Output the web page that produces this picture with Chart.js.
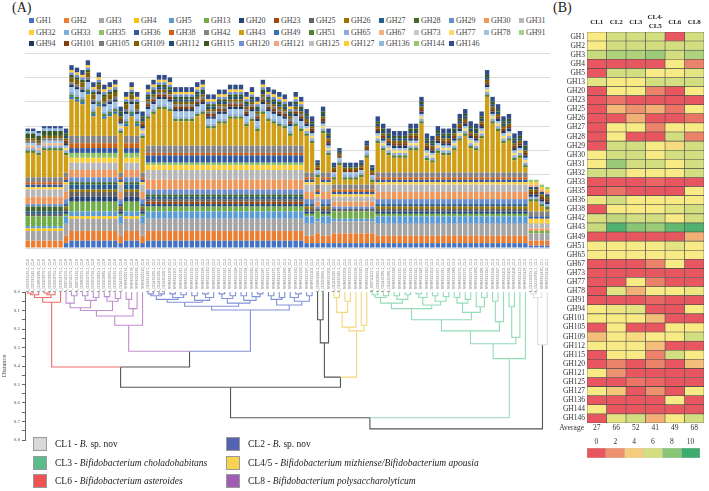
<!DOCTYPE html>
<html>
<head>
<meta charset="utf-8">
<script src="https://cdn.jsdelivr.net/npm/chart.js@4.4.1/dist/chart.umd.min.js"></script>
<style>
  body { margin: 0; width: 709px; height: 491px; position: relative; overflow: hidden; background: #fff; font-family: 'Liberation Serif', serif; color: #222; }
  canvas { position: absolute; }
  .panel { position: absolute; font-size: 14px; }
  #ghLegend { position: absolute; left: 29px; top: 15px; display: grid; grid-template-columns: repeat(15, 35px); grid-auto-rows: 11.6px; font-size: 8px; color: #444; }
  #ghLegend span { display: flex; align-items: center; white-space: nowrap; }
  #ghLegend i { display: inline-block; width: 5px; height: 5px; margin-right: 2px; }
  .cl { position: absolute; font-size: 9.5px; display: flex; align-items: center; white-space: pre; }
  .cl b { display: inline-block; width: 12px; height: 12px; border: 1px solid #9a9a9a; margin-right: 8px; }
</style>
</head>
<body>
<div class="panel" style="left:12px;top:0px">(A)</div>
<div class="panel" style="left:553px;top:0px">(B)</div>
<div id="ghLegend"></div>
<canvas id="bars" width="578" height="292" style="left:0;top:0"></canvas>
<canvas id="dendro" width="578" height="160" style="left:0;top:285px"></canvas>
<canvas id="heat" width="169" height="433" style="left:540px;top:0"></canvas>
<canvas id="scale" width="129" height="24" style="left:580px;top:437px"></canvas>
<div id="clLegend"></div>

<script>
// GH families (stack order, bottom to top)
const ghNames = ['GH1','GH2','GH3','GH4','GH5','GH13','GH20','GH23','GH25','GH26','GH27','GH28','GH29','GH30','GH31',
  'GH32','GH33','GH35','GH36','GH38','GH42','GH43','GH49','GH51','GH65','GH67','GH73','GH77','GH78','GH91',
  'GH94','GH101','GH105','GH109','GH112','GH115','GH120','GH121','GH125','GH127','GH136','GH144','GH146'];
const ghColors = ['#4472c4','#ed7d31','#a5a5a5','#ffc000','#5b9bd5','#70ad47','#264478','#9e480e','#636363','#997300','#255e91','#43682b','#698ed0','#f1975a','#b7b7b7',
  '#ffcd33','#7cafdd','#8cc168','#335aa1','#d26012','#848484','#d09f16','#2e75b6','#548235','#8faadc','#f4b183','#c9c9c9','#ffd966','#9dc3e6','#a9d18e',
  '#203864','#843c0c','#7b7b7b','#7f6000','#1f4e79','#385723','#6f8fd8','#f3a683','#bfbfbf','#ffcb2f','#8db9e3','#93c873','#2f4b8a'];

// genomes, in dendrogram order
const sampleIds = [
  'GCA_000741525.1','GCA_000741545.1','GCA_002803265.1','GCA_003202675.1','GCA_003202695.1','GCA_003202755.1','GCA_003202775.1',
  'GCA_000741155.1','GCA_000741175.1','GCA_000741195.1','GCA_002803215.1','GCA_003202735.1','GCA_003202795.1','GCA_003202815.1','GCA_003202835.1',
  'GCA_003202855.1','GCA_003202915.1','GCA_019425125.1','SRR6321174','SRR6321178','SRR6321183','SRR6321190',
  'GCA_019425145.1','GCA_019425165.1','GCA_019425185.1','GCA_019425205.1','SRR6321203','SRR6321207','SRR6321211','SRR6321215','SRR6321219',
  'SRR6321222','SRR6321226','SRR6321230','SRR6321233','SRR6321237','SRR6321241','SRR6321245','SRR6321248','SRR6321252','SRR6321256',
  'SRR6321260','SRR6321263','SRR6321267','SRR6321271','SRR6321275','SRR6321278','SRR6321282','SRR6321286','SRR6321290','SRR6321293',
  'SRR6321297','SRR6321301',
  'GCA_002802945.1','GCA_003202895.1','SRR6321305',
  'GCA_019425225.1','GCA_019425245.1','SRR6321309','SRR6321313','SRR6321316','SRR6321320','SRR6321324',
  'GCA_000741115.1','GCA_003202655.1','GCA_019425265.1','GCA_019425285.1','SRR6321328','SRR6321331','SRR6321335','SRR6321339','SRR6321342',
  'SRR6321346','SRR6321350','SRR6321353','SRR6321357','SRR6321361','SRR6321364','SRR6321368','SRR6321372','SRR6321375','SRR6321379',
  'SRR6321383','SRR6321386','SRR6321390','SRR6321394','SRR6321397','SRR6321401','SRR6321405','SRR6321408','SRR6321412','SRR6321416',
  'GCA_014195615.1','GCA_014195635.1','SRR6321420','SRR6321424'];
const clusterRuns = [['CL6', 7], ['CL8', 15], ['CL2', 31], ['CL4', 3], ['CL5', 7], ['CL3', 29], ['CL1', 4]];

// total GH genes per genome (bar heights)
const sampleTotals = [49,49,48,50,50,50,50,
  49,75,74,73,77,68,72,67,68,69,58,64,68,64,56,
  67,69,71,71,70,66,66,66,66,68,69,63,63,65,65,67,67,67,64,66,62,69,66,65,64,63,60,64,62,57,54,
  36,58,49,
  35,41,35,35,35,36,44,
  34,54,51,49,48,48,48,51,51,62,47,46,50,49,49,51,55,57,52,51,56,73,62,59,54,55,47,48,44,
  28,28,26,25];
// which family profile each bar looks like (6,8,2,3,4=CL4/5,1)
const sampleProfile = '6666666' + '3' + '888888888' + '3' + '888' + '3' + '2'.repeat(29) + '33' + '433' + '4444444' + '4' + '3'.repeat(28) + '1111';

// GH counts per profile, in ghNames order
const profileCL6  = [0,3,4,1,1,4, 0,0,1,0,1,2, 1,3,3,1,0,0, 1,1,2,11, 0,1,1,1,0,0,1,0, 0,0,1,1,0,2, 0,0,0,0,1,0,1];
const profileCL8  = [3,4,5,1,2,4, 2,0,2,1,2,1, 2,3,3,2,0,2, 2,2,3,8, 1,1,1,0,0,0,2,0, 1,0,1,2,0,1, 1,0,0,1,0,0,2];
const profileCL2  = [3,4,5,0,3,2, 1,1,1,0,1,1, 2,4,4,2,0,1, 3,1,3,10, 0,1,1,0,0,0,2,0, 1,1,1,1,1,1, 1,0,0,1,0,0,2];
const profileCL3  = [2,3,5,0,3,1, 1,0,1,1,1,0, 2,3,3,1,0,0, 1,1,2,10, 0,1,1,0,0,1,1,0, 1,1,0,1,1,1, 0,0,0,0,0,0,2];
const profileCL45 = [2,4,5,0,1,3, 0,0,1,0,0,0, 1,2,2,1,0,0, 1,1,2,6, 0,1,1,0,0,0,1,0, 0,1,0,1,1,0, 0,0,0,0,0,0,1];
const profileCL1  = [1,2,3,0,0,1, 0,0,0,0,0,0, 0,1,2,2,0,0, 1,0,2,3, 0,1,1,0,0,0,0,0, 1,1,0,1,1,0, 0,1,0,1,0,1,0];

// clustering (height, left, right); numbers are leaves
const treeCL6 = [0.055, [0.03, [0.015, [0.005, 0, 1], 2], [0.015, [0.005, 3, 4], 5]], 6];
const treeCL8 = [0.18, [0.13, [0.10, [0.085, [0.06, 7, [0.02, 8, 9]], [0.045, [0.02, 10, 11], [0.03, 12, 13]]],
  [0.05, [0.025, 14, 15], [0.035, 16, 17]]], [0.09, [0.04, 18, 19], 20]], 21];
const treeCL2 = [0.097,
  [0.077, [0.055, [0.04, [0.02, [0.01, 22, 23], [0.01, 24, 25]], [0.03, [0.01, 26, 27], [0.015, 28, 29]]],
    [0.045, [0.02, 30, 31], [0.03, [0.01, 32, 33], 34]]],
    [0.06, [0.035, [0.01, 35, 36], [0.02, 37, 38]], [0.045, [0.02, 39, 40], [0.025, 41, [0.01, 42, 43]]]]],
  [0.07, [0.04, [0.02, 44, 45], [0.03, 46, 47]], [0.05, [0.03, 48, [0.01, 49, 50]], [0.02, 51, 52]]]];
const treeCL4 = [0.275, [0.15, 53, 54], 55];
const treeCL5 = [0.21, [0.19, [0.11, [0.03, 56, 57], [0.05, 58, 59]], 60], [0.18, 61, 62]];
const treeCL3 = [0.36, [0.28, [0.21, [0.15,
  [0.09, [0.06, [0.03, [0.015, 63, 64], [0.02, 65, 66]], [0.04, [0.02, 67, 68], [0.015, 69, 70]]],
    [0.07, [0.03, [0.01, 71, 72], 73], [0.05, [0.02, 74, 75], [0.025, 76, 77]]]],
  [0.11, [0.06, [0.03, 78, 79], [0.04, 80, 81]], [0.08, 82, [0.03, 83, 84]]]],
  [0.16, [0.05, 85, 86], 87]], [0.245, [0.08, 88, 89], 90]], 91];
const treeCL1 = [0.285, [0.03, [0.01, 92, 93], 94], 95];
const mergeTree = [0.74, [0.68, [0.515, [0.405, treeCL6, [0.32, treeCL8, treeCL2]], [0.46, treeCL4, treeCL5]], treeCL3], treeCL1];

// panel B: colour values per cluster, ghNames order
const heatHeaders = ['CL1', 'CL2', 'CL3', ['CL4-', 'CL5'], 'CL6', 'CL8'];
const heatCL1  = [5,5,6.3,0,0,5.5, 0,0,0,0,0,0, 0,5,5,6,0,0, 5.3,0,5.8,6.3, 0,5,5,0,0,0,0,0, 5,5,0,3.5,5,0, 0,5,0,5,0,5,0];
const heatCL2  = [6,6,7,0,6,5, 5,1,3.3,0,5,5, 6,6,7.5,6,0,1, 6,5,6.5,9.5, 0,5,5,0,0,0,5.5,0, 5.3,5,5,5,5,5, 1.5,2,0,3.8,0,0,5.5];
const heatCL3  = [6,6,7,0,6,5, 5,0,2,3,5,0, 6,6,6,5,0,0, 5,5,6,8, 0,5,5,0,0,5,3,0, 5.5,5,0,4.5,5,5, 0,0,1,0,0,0,6];
const heatCL45 = [6,6,7.5,0,5,6, 1.5,0,3,0,1.5,0, 5,5,6,5,0.5,0, 5,5,6,7.5, 0,5,5,1.5,0,1.5,5,0.5, 0,3.5,0,5,3.5,1.5, 1.5,0,0.5,2,0,0,3];
const heatCL6  = [0,6,6,5,5,6, 0,0,1,0,5,6, 4.5,6,5,5,0,0, 5,5.5,5,9, 0,5.5,5,5,0,0,5,0, 0,0,5,5,0,6, 0,0,0,0,5,0,5];
const heatCL8  = [6,6,7,1.5,5.5,6, 5,0,5,1,5,1.5, 6,6,6,6,0,5, 5,6,6,9.5, 3,5,5,0,0,0,5.3,0, 5,0,5,6,0,5, 3.5,0,0,5,0,0,6];
const heatAverage = [27, 66, 52, 41, 49, 68];
const scaleTicks = [0, 2, 4, 6, 8, 10];

const clusterLegend = [
  ['CL1', 'B.', ' sp. nov', '#d9d9d9', 33, 437],
  ['CL3', 'Bifidobacterium choladohabitans', '', '#5dbd8a', 33, 455.5],
  ['CL6', 'Bifidobacterium asteroides', '', '#ee5353', 33, 474],
  ['CL2', 'B.', ' sp. nov', '#5562b2', 226, 437],
  ['CL4/5', 'Bifidobacterium mizhiense/Bifidobacterium apousia', '', '#f6d450', 226, 455.5],
  ['CL8', 'Bifidobacterium polysaccharolyticum', '', '#a15cb6', 226, 474]
];
const linkColors = { CL6: '#f06a6a', CL8: '#c08fcf', CL2: '#8292d8', CL5: '#f3d77c', CL3: '#93dcb6', CL1: '#dedede' };

// ---------- legends (html) ----------
const ghLegend = document.getElementById('ghLegend');
ghNames.forEach((n, g) => {
  const s = document.createElement('span');
  s.innerHTML = '<i style="background:' + ghColors[g] + '"></i>' + n;
  ghLegend.appendChild(s);
});
const clLegend = document.getElementById('clLegend');
clusterLegend.forEach(([cl, it, rest, col, x, y]) => {
  const d = document.createElement('div');
  d.className = 'cl';
  d.style.left = x + 'px';
  d.style.top = y + 'px';
  d.innerHTML = '<b style="background:' + col + '"></b><span>' + cl + ' - <i>' + it + '</i>' + rest + '</span>';
  clLegend.appendChild(d);
});

// ---------- stacked bars ----------
const sampleCluster = [];
clusterRuns.forEach(([c, n]) => { for (let k = 0; k < n; k++) sampleCluster.push(c); });
const sampleLabels = sampleIds.map((id, i) => id + '_' + sampleCluster[i]);
const profileByCode = { '6': profileCL6, '8': profileCL8, '2': profileCL2, '3': profileCL3, '4': profileCL45, '1': profileCL1 };
const gh43 = ghNames.indexOf('GH43');

// the bar height not covered by the profile goes into GH43 (largest band)
const counts = sampleIds.map((_, i) => {
  const p = profileByCode[sampleProfile[i]];
  const sum = p.reduce((a, b) => a + b, 0);
  return p.map((v, g) => g === gh43 ? v + sampleTotals[i] - sum : v);
});

new Chart(document.getElementById('bars'), {
  type: 'bar',
  data: {
    labels: sampleLabels,
    datasets: ghNames.map((name, g) => ({
      label: name,
      data: counts.map(c => c[g]),
      backgroundColor: ghColors[g],
      borderWidth: 0,
      barPercentage: 0.8,
      categoryPercentage: 1
    }))
  },
  options: {
    responsive: false,
    animation: false,
    layout: { padding: { left: 25, right: 28, top: 53, bottom: 0 } },
    plugins: { legend: { display: false }, tooltip: { enabled: false } },
    scales: {
      x: {
        stacked: true,
        grid: { display: false },
        border: { display: false },
        ticks: { autoSkip: false, maxRotation: 90, minRotation: 90, padding: 3, color: '#777', font: { size: 3.6, family: 'Liberation Sans' } },
        afterFit(s) { s.height = 44; }
      },
      y: {
        stacked: true, min: 0, max: 80,
        ticks: { display: false, stepSize: 10 },
        grid: { color: '#dcdcdc', drawTicks: false },
        border: { display: false },
        afterFit(s) { s.width = 0; }
      }
    }
  }
});

// ---------- dendrogram ----------
const segs = [];
function linkColor(child, parent) {
  if (!child || child === 'CL4') return '#555';
  if (child === 'CL1' && parent !== 'CL1') return '#555';
  return linkColors[child];
}
function walk(node) {
  if (typeof node === 'number') return { x: node, h: 0, group: sampleCluster[node] };
  const [h, a, b] = node;
  const L = walk(a), R = walk(b);
  const x = (L.x + R.x) / 2;
  const group = L.group === R.group ? L.group : null;
  [L, R].forEach(c => segs.push({
    pts: [{ x: c.x, y: c.h }, { x: c.x, y: h }, { x: x, y: h }],
    color: linkColor(c.group, group)
  }));
  return { x, h, group };
}
walk(mergeTree);

new Chart(document.getElementById('dendro'), {
  type: 'scatter',
  data: {
    datasets: segs.map(s => ({ data: s.pts, showLine: true, borderColor: s.color, borderWidth: 1.1, pointRadius: 0, clip: false }))
  },
  options: {
    responsive: false,
    animation: false,
    layout: { padding: { left: 0, right: 28, top: 7, bottom: 5 } },
    plugins: { legend: { display: false }, tooltip: { enabled: false } },
    scales: {
      x: { type: 'linear', min: -0.5, max: sampleIds.length - 0.5, display: false },
      y: {
        reverse: true, min: 0, max: 0.8,
        ticks: {
          stepSize: 0.05, autoSkip: false, padding: 2, color: '#555', font: { size: 5, family: 'Liberation Serif' },
          callback: v => Math.abs(v * 10 - Math.round(v * 10)) < 1e-6 ? v.toFixed(1) : ''
        },
        grid: { drawOnChartArea: false, tickLength: 3, color: '#666' },
        border: { color: '#666' },
        title: { display: true, text: 'Distance', color: '#444', padding: 0, font: { size: 6.5, family: 'Liberation Serif' } },
        afterFit(s) { s.width = 25; }
      }
    }
  }
});

// ---------- heatmap ----------
function heatColor(v) {
  const stops = [[0, [232, 86, 96]], [5, [248, 234, 132]], [10, [62, 172, 110]]];
  const [a, b] = v <= 5 ? [stops[0], stops[1]] : [stops[1], stops[2]];
  const t = (v - a[0]) / (b[0] - a[0]);
  const c = a[1].map((q, k) => Math.round(q + (b[1][k] - q) * t));
  return 'rgb(' + c.join(',') + ')';
}
const columnTicks = s => { s.ticks = [0.5, 1.5, 2.5, 3.5, 4.5, 5.5].map(v => ({ value: v })); };
const heatColumns = [heatCL1, heatCL2, heatCL3, heatCL45, heatCL6, heatCL8];

const averageLabel = {
  id: 'averageLabel',
  afterDraw(chart) {
    const ctx = chart.ctx, x2 = chart.scales.x2;
    ctx.save();
    ctx.font = '7.5px "Liberation Serif"';
    ctx.fillStyle = '#333';
    ctx.textAlign = 'right';
    ctx.textBaseline = 'middle';
    ctx.fillText('Average', chart.chartArea.left - 3, x2.top + 5);
    ctx.restore();
  }
};

new Chart(document.getElementById('heat'), {
  type: 'bar',
  data: {
    labels: ghNames,
    datasets: heatColumns.map(col => ({
      data: col.map(() => 1),
      backgroundColor: col.map(heatColor),
      borderColor: '#4a4a4a',
      borderWidth: 0.6,
      borderSkipped: false,
      barPercentage: 1,
      categoryPercentage: 1
    }))
  },
  options: {
    indexAxis: 'y',
    responsive: false,
    animation: false,
    layout: { padding: { left: 0, right: 5, top: 0, bottom: 0 } },
    plugins: { legend: { display: false }, tooltip: { enabled: false } },
    scales: {
      x: {
        stacked: true, min: 0, max: 6, position: 'top',
        afterBuildTicks: columnTicks,
        ticks: { callback: (v, i) => heatHeaders[i], crossAlign: 'center', color: '#222', padding: 6, font: { size: 7, weight: 'bold', family: 'Liberation Serif' } },
        grid: { display: false, drawTicks: false }, border: { display: false },
        afterFit(s) { s.height = 32; }
      },
      x2: {
        type: 'linear', min: 0, max: 6, position: 'bottom',
        afterBuildTicks: columnTicks,
        ticks: { callback: (v, i) => String(heatAverage[i]), color: '#333', padding: 1, font: { size: 7.5, family: 'Liberation Serif' } },
        grid: { display: false, drawTicks: false }, border: { display: false },
        afterFit(s) { s.height = 10; }
      },
      y: {
        stacked: true,
        ticks: { autoSkip: false, color: '#333', padding: 2, font: { size: 7.5, family: 'Liberation Serif' } },
        grid: { display: false, drawTicks: false }, border: { display: false },
        afterFit(s) { s.width = 47; }
      }
    }
  },
  plugins: [averageLabel]
});

// ---------- colour scale ----------
new Chart(document.getElementById('scale'), {
  type: 'bar',
  data: {
    labels: [''],
    datasets: scaleTicks.map(v => ({
      data: [1], backgroundColor: heatColor(v), borderColor: '#c8c8c8', borderWidth: 0.5,
      borderSkipped: false, barPercentage: 1, categoryPercentage: 1
    }))
  },
  options: {
    indexAxis: 'y',
    responsive: false,
    animation: false,
    layout: { padding: { left: 7, right: 9, top: 0, bottom: 3 } },
    plugins: { legend: { display: false }, tooltip: { enabled: false } },
    scales: {
      x: {
        stacked: true, min: 0, max: 6, position: 'top',
        afterBuildTicks: columnTicks,
        ticks: { callback: (v, i) => String(scaleTicks[i]), color: '#333', padding: 1, font: { size: 7.5, family: 'Liberation Serif' } },
        grid: { display: false, drawTicks: false }, border: { display: false },
        afterFit(s) { s.height = 11; }
      },
      y: { stacked: true, display: false }
    }
  }
});
</script>
</body>
</html>
